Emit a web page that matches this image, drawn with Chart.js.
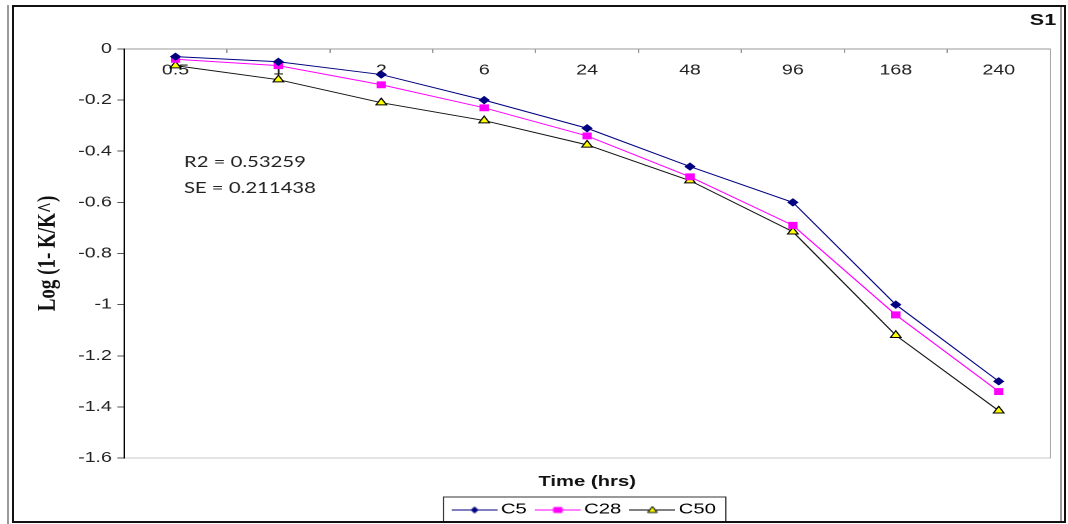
<!DOCTYPE html>
<html>
<head>
<meta charset="utf-8">
<script src="https://cdn.jsdelivr.net/npm/chart.js@4.4.1/dist/chart.umd.min.js"></script>
<style>
    html, body { margin: 0; padding: 0; background: #fff; }
    #wrap { position: relative; width: 1068px; height: 524px; overflow: hidden; background: #fff; }
    #chart { position: absolute; left: 0; top: 0; }
    .frame { position: absolute; left: 12px; top: 5px; width: 1054px; height: 518px; border: 2px solid #111; box-sizing: border-box; pointer-events: none; }
    .rule { position: absolute; width: 1.5px; background: #9a9a9a; pointer-events: none; }
</style>
</head>
<body>
<div id="wrap">
    <canvas id="chart" width="791" height="524" style="width:1068px;height:524px"></canvas>
    <div class="frame"></div>
    <div class="rule" style="left:7px;top:5px;height:519px"></div>
    <div class="rule" style="left:1060px;top:7px;height:514px"></div>
</div>
<script>
// the reference picture is stretched sideways, so the canvas is drawn narrow and widened by css
const SX = 1.35;
const W = 791;

const timeLabels = ['0.5', '1', '2', '6', '24', '48', '96', '168', '240'];
const c5Values = [-0.03, -0.05, -0.10, -0.20, -0.31, -0.46, -0.60, -1.00, -1.30];
const c28Values = [-0.04, -0.065, -0.14, -0.23, -0.34, -0.50, -0.69, -1.04, -1.34];
const c50Values = [-0.065, -0.12, -0.21, -0.28, -0.375, -0.515, -0.715, -1.12, -1.415];
const fitText = ['R2 = 0.53259', 'SE = 0.211438'];

const sans = 'Liberation Sans';

// small line + marker picture for each legend entry
function legendIcon(line, fill, edge, shape) {
    const c = document.createElement('canvas');
    c.width = 34;
    c.height = 12;
    const g = c.getContext('2d');
    g.strokeStyle = line;
    g.lineWidth = 1;
    g.beginPath();
    g.moveTo(0, 6.5);
    g.lineTo(34, 6.5);
    g.stroke();
    g.fillStyle = fill;
    g.strokeStyle = edge;
    g.beginPath();
    if (shape === 'diamond') {
        g.moveTo(17, 3.5); g.lineTo(19.5, 6.5); g.lineTo(17, 9.5); g.lineTo(14.5, 6.5);
    } else if (shape === 'square') {
        g.rect(14, 4, 6, 5);
    } else {
        g.moveTo(17, 3); g.lineTo(20.5, 9); g.lineTo(13.5, 9);
    }
    g.closePath();
    g.fill();
    g.stroke();
    return c;
}

const icons = [
    legendIcon('#000080', '#000080', '#000080', 'diamond'),
    legendIcon('#ff00ff', '#ff00ff', '#ff00ff', 'square'),
    legendIcon('#000000', '#ffff00', '#000000', 'triangle')
];

const legendFrame = {
    id: 'legendFrame',
    afterDraw(chart) {
        const boxes = chart.legend && chart.legend.legendHitBoxes;
        if (!boxes || !boxes.length) return;
        const first = boxes[0];
        const last = boxes[boxes.length - 1];
        const left = first.left - 11;
        const right = last.left + last.width + 7.4;
        const ctx = chart.ctx;
        ctx.save();
        ctx.strokeStyle = '#333';
        ctx.lineWidth = 1;
        ctx.strokeRect(left, first.top - 5, right - left, first.height + 10);
        ctx.restore();
    }
};

const fitNote = {
    id: 'fitNote',
    afterDraw(chart) {
        const a = chart.chartArea;
        const ctx = chart.ctx;
        ctx.save();
        ctx.font = '15px Lato';
        ctx.fillStyle = '#222';
        ctx.textBaseline = 'alphabetic';
        fitText.forEach((t, i) => {
            ctx.fillText(t, a.left + 60 / SX, a.top + 118 + i * 26);
        });
        ctx.restore();
    }
};

new Chart(document.getElementById('chart'), {
    type: 'line',
    data: {
        labels: timeLabels,
        datasets: [
            {
                label: 'C5', data: c5Values,
                borderColor: '#000080', backgroundColor: '#000080',
                pointBackgroundColor: '#000080', pointBorderColor: '#000080',
                pointStyle: 'rectRot', pointRadius: 3.5, borderWidth: 1
            },
            {
                label: 'C28', data: c28Values,
                borderColor: '#ff00ff', backgroundColor: '#ff00ff',
                pointBackgroundColor: '#ff00ff', pointBorderColor: '#ff00ff',
                pointStyle: 'rect', pointRadius: 4.2, borderWidth: 1
            },
            {
                label: 'C50', data: c50Values,
                borderColor: '#111', backgroundColor: '#ffff00',
                pointBackgroundColor: '#ffff00', pointBorderColor: '#000',
                pointStyle: 'triangle', pointRadius: 4.5, borderWidth: 1
            }
        ]
    },
    options: {
        responsive: false,
        animation: false,
        devicePixelRatio: 2,
        layout: { padding: { left: 0, right: W - 1056 / SX, top: 0, bottom: 0 } },
        plugins: {
            title: {
                display: true, text: 'S1', align: 'end', color: '#111',
                font: { family: sans, size: 16, weight: 'bold' },
                padding: { top: 11, bottom: 0 }
            },
            legend: {
                position: 'bottom',
                fullSize: false,
                maxHeight: 33,
                labels: {
                    usePointStyle: true,
                    pointStyleWidth: 24,
                    boxHeight: 12,
                    padding: 11,
                    color: '#111',
                    font: { family: sans, size: 15 },
                    generateLabels: (chart) => chart.data.datasets.map((ds, i) => ({
                        text: ds.label,
                        pointStyle: icons[i],
                        fillStyle: ds.backgroundColor,
                        strokeStyle: ds.borderColor,
                        lineWidth: 0,
                        hidden: false,
                        datasetIndex: i
                    }))
                }
            },
            tooltip: { enabled: false }
        },
        scales: {
            x: {
                type: 'category',
                position: 'top',
                offset: true,
                grid: { offset: true, drawOnChartArea: false, tickLength: -4, color: '#999' },
                border: { color: '#999', width: 1 },
                ticks: {
                    mirror: true, padding: 13, color: '#222', autoSkip: false, maxRotation: 0,
                    font: { family: sans, size: 14.5 }
                },
                afterFit: (s) => { s.height = 18.8; }
            },
            x2: {
                type: 'category',
                labels: timeLabels,
                position: 'bottom',
                offset: true,
                grid: { drawOnChartArea: false, drawTicks: false },
                border: { color: '#c8c8c8', width: 1 },
                ticks: { display: false },
                title: {
                    display: true, text: 'Time (hrs)', color: '#111',
                    font: { family: sans, size: 15, weight: 'bold' },
                    padding: { top: 15, bottom: 0 }
                }
            },
            y: {
                position: 'left',
                min: -1.6,
                max: 0,
                ticks: {
                    stepSize: 0.2, padding: 4, color: '#222',
                    font: { family: sans, size: 14.5 },
                    callback: (v) => String(Math.round(v * 10) / 10)
                },
                grid: { drawOnChartArea: false, tickLength: 5, color: '#555' },
                border: { color: '#000', width: 1 },
                title: {
                    display: true, text: 'Log (1- K/K^)', color: '#111',
                    font: { family: 'Liberation Serif', size: 19, weight: 'bold' },
                    padding: { top: 24, bottom: 0 }
                },
                afterFit: (s) => { s.width = 124 / SX; }
            },
            y2: {
                position: 'right',
                min: -1.6,
                max: 0,
                ticks: { display: false },
                grid: { drawOnChartArea: false, drawTicks: false },
                border: { color: '#aaa', width: 1 },
                afterFit: (s) => { s.width = 6 / SX; }
            }
        }
    },
    plugins: [legendFrame, fitNote]
});
</script>
</body>
</html>
